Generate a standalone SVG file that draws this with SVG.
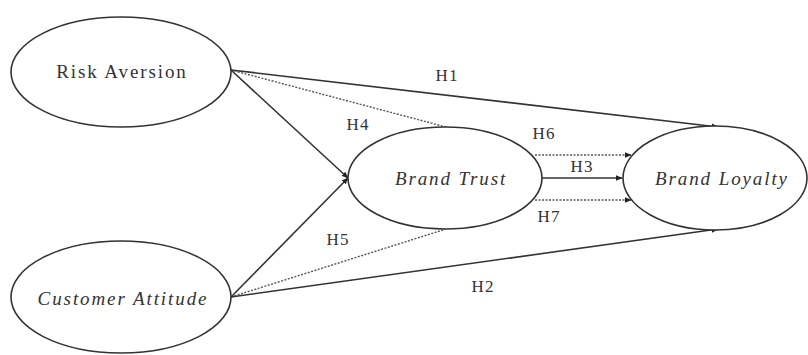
<svg xmlns="http://www.w3.org/2000/svg" width="808" height="355" viewBox="0 0 808 355">
<style>
.node{fill:#fff;stroke:#333;stroke-width:1.6}
.t{font-family:"Liberation Serif","Times New Roman",serif;font-size:19px;letter-spacing:1.9px;fill:#333;text-anchor:middle;dominant-baseline:central}
.i{font-style:italic}
.lbl{font-family:"Liberation Serif","Times New Roman",serif;font-size:17px;letter-spacing:1px;fill:#333;text-anchor:middle;dominant-baseline:central}
.s{stroke:#333;stroke-width:1.6;fill:none}
.d{stroke:#555;stroke-width:1.4;fill:none;stroke-dasharray:2 1.5}
</style>
<defs>
<marker id="a" viewBox="0 0 10 10" refX="9" refY="5" markerWidth="7" markerHeight="7" markerUnits="userSpaceOnUse" orient="auto">
<path d="M0,1 L10,5 L0,9 Z" fill="#222"/>
</marker>
</defs>
<rect width="808" height="355" fill="#fff"/>
<g id="connectors">
<line class="s" x1="231" y1="70" x2="718" y2="127" marker-end="url(#a)"/>
<line class="d" x1="231" y1="70" x2="446" y2="127"/>
<line class="s" x1="231" y1="70" x2="348" y2="178" marker-end="url(#a)"/>
<line class="s" x1="231" y1="297" x2="348" y2="178" marker-end="url(#a)"/>
<line class="d" x1="231" y1="297" x2="446" y2="229"/>
<line class="s" x1="231" y1="297" x2="718" y2="229" marker-end="url(#a)"/>
<line class="s" x1="542" y1="178" x2="622" y2="178" marker-end="url(#a)"/>
<line class="d" x1="535" y1="155" x2="631" y2="155" marker-end="url(#a)"/>
<line class="d" x1="535" y1="200" x2="631" y2="200" marker-end="url(#a)"/>
<text class="lbl" x="447" y="75">H1</text>
<text class="lbl" x="358" y="124">H4</text>
<text class="lbl" x="544" y="133">H6</text>
<text class="lbl" x="582" y="166">H3</text>
<text class="lbl" x="549" y="216">H7</text>
<text class="lbl" x="338" y="239">H5</text>
<text class="lbl" x="483" y="286">H2</text>
</g>
<g id="risk-aversion">
<ellipse class="node" cx="121" cy="72" rx="110" ry="55"/>
<text class="t" x="122" y="71">Risk Aversion</text>
</g>
<g id="customer-attitude">
<ellipse class="node" cx="121" cy="297" rx="110" ry="56"/>
<text class="t i" x="123" y="298">Customer Attitude</text>
</g>
<g id="brand-trust">
<ellipse class="node" cx="445" cy="178" rx="97" ry="51"/>
<text class="t i" x="451" y="178">Brand Trust</text>
</g>
<g id="brand-loyalty">
<ellipse class="node" cx="715" cy="178" rx="92" ry="52"/>
<text class="t i" x="722" y="178">Brand Loyalty</text>
</g>
</svg>
